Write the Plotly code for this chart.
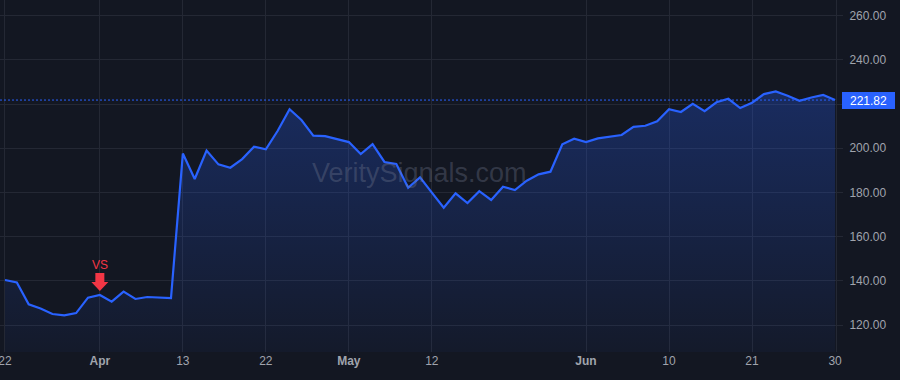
import pandas as pd
import plotly.graph_objects as go

# ---- data ----
holidays = ["2021-04-02", "2021-05-31"]
dates = [d.strftime("%Y-%m-%d") for d in pd.bdate_range("2021-03-22", "2021-06-30")
         if d.strftime("%Y-%m-%d") not in holidays]

prices = [
    140.4, 139.3, 129.4, 127.5, 125.0, 124.4, 125.4, 132.4, 133.6, 130.6,
    135.1, 131.8, 132.7, 132.4, 132.2, 197.6, 186.1, 199.0, 192.7, 191.2,
    195.1, 200.7, 199.5, 207.9, 217.7, 212.8, 205.7, 205.5, 204.3, 202.8,
    197.4, 201.9, 193.8, 192.9, 182.1, 186.8, 179.9, 173.1, 179.6, 175.2,
    180.6, 176.6, 182.6, 181.1, 185.3, 188.2, 189.4, 201.8, 204.3, 202.8,
    204.5, 205.3, 206.0, 209.7, 210.2, 212.2, 217.7, 216.4, 220.1, 216.8,
    220.8, 222.4, 218.2, 220.6, 224.5, 225.7, 223.8, 221.5, 223.0, 224.1,
    221.82,
]

tick_dates = ["2021-03-22", "2021-04-01", "2021-04-13", "2021-04-22", "2021-05-03",
              "2021-05-12", "2021-06-01", "2021-06-10", "2021-06-21", "2021-06-30"]
tick_labels = ["22", "<b>Apr</b>", "13", "22", "<b>May</b>", "12", "<b>Jun</b>", "10", "21", "30"]

y_ticks = [120, 140, 160, 180, 200, 220, 240, 260]

signal_date = "2021-04-01"
signal_label = "VS"
watermark = "VeritySignals.com"

# ---- styling ----
BG = "#131722"
GRID = "#242834"
LINE = "#2962ff"
RED = "#f23645"
TXT = "#a0a4ad"
FONT = "Liberation Sans, Arial, sans-serif"

x = list(range(len(dates)))
last = prices[-1]
sig_i = dates.index(signal_date)

# the last-price badge covers the axis label nearest to it
y_text = ["" if abs(v - last) < 8 else f"{v:.2f}" for v in y_ticks]

fig = go.Figure()
fig.add_trace(go.Scatter(
    x=x, y=prices, customdata=dates, mode="lines",
    line=dict(color=LINE, width=2.2),
    fill="tozeroy",
    fillgradient=dict(type="vertical", start=108, stop=226,
                      colorscale=[[0, "rgba(41,98,255,0.04)"], [1, "rgba(41,98,255,0.28)"]]),
    hoverinfo="skip", showlegend=False,
))

# last price dotted line
fig.add_shape(type="line", xref="paper", x0=0, x1=1, yref="y", y0=last, y1=last,
              line=dict(color=LINE, width=1, dash="2px,2px"), layer="above")

# signal arrow (pixel geometry anchored at the data point)
fig.add_shape(type="path", xref="x", yref="y",
              xsizemode="pixel", ysizemode="pixel",
              xanchor=sig_i, yanchor=prices[sig_i],
              path="M0,4 L8.5,13 L4.5,13 L4.5,22 L-4.5,22 L-4.5,13 L-8.5,13 Z",
              fillcolor=RED, line=dict(width=0), layer="above")

fig.add_annotation(x=sig_i, y=prices[sig_i], yshift=30, text=signal_label,
                   showarrow=False, font=dict(color=RED, size=12, family=FONT))

# watermark
fig.add_annotation(xref="paper", yref="paper", x=0.502, y=0.508, text=watermark,
                   showarrow=False, font=dict(color="rgba(120,128,150,0.32)", size=27, family=FONT))

# last price label
fig.add_annotation(xref="paper", yref="y", x=1, y=last, xanchor="left", yanchor="middle",
                   xshift=6, text=f"{last:.2f}", showarrow=False,
                   bgcolor=LINE, borderpad=2, borderwidth=0, width=49, height=13,
                   font=dict(color="#ffffff", size=12, family=FONT))

fig.update_layout(
    width=900, height=380,
    margin=dict(l=0, r=64, t=0, b=28, autoexpand=False),
    paper_bgcolor=BG, plot_bgcolor=BG,
    font=dict(family=FONT, color=TXT, size=12),
    showlegend=False,
    xaxis=dict(
        range=[-0.42, len(dates) - 1 + 0.08],
        tickmode="array", tickvals=[dates.index(d) for d in tick_dates], ticktext=tick_labels,
        showgrid=True, gridcolor=GRID, gridwidth=1, zeroline=False, showline=False,
        ticks="", tickfont=dict(size=12, color=TXT), fixedrange=True,
        ticklabeloverflow="allow", automargin=False,
    ),
    yaxis=dict(
        side="right", range=[107.8, 267.1],
        tickmode="array", tickvals=y_ticks, ticktext=y_text,
        showgrid=True, gridcolor=GRID, gridwidth=1, zeroline=False,
        showline=True, linecolor=GRID, linewidth=1,
        ticks="outside", ticklen=6, tickcolor=GRID, ticklabelstandoff=4,
        tickfont=dict(size=12, color=TXT), fixedrange=True, automargin=False,
    ),
)

fig.write_html("out.html", config={"displayModeBar": False})
